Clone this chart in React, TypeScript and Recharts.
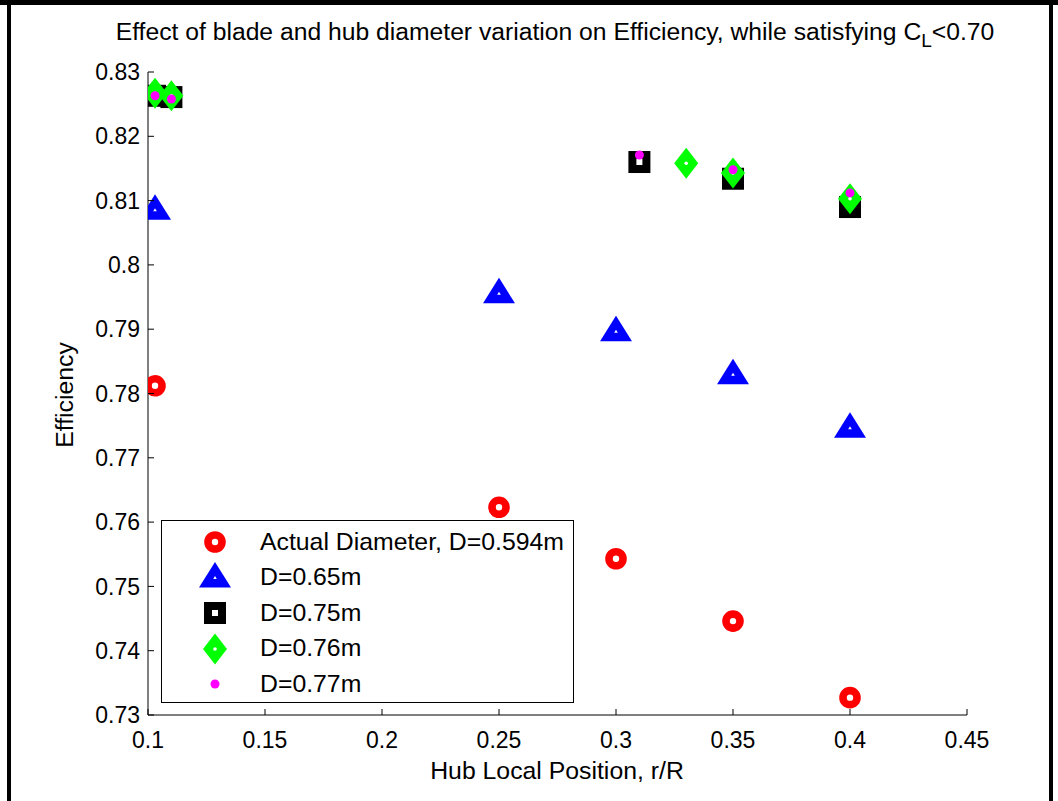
import React from "react";
import { ScatterChart, Scatter, XAxis, YAxis, Legend } from "recharts";

const FONT = '"Liberation Sans", Arial, Helvetica, sans-serif';

const xTicks = [0.1, 0.15, 0.2, 0.25, 0.3, 0.35, 0.4, 0.45];
const yTicks = [0.73, 0.74, 0.75, 0.76, 0.77, 0.78, 0.79, 0.8, 0.81, 0.82, 0.83];

const seriesNames = [
  "Actual Diameter, D=0.594m",
  "D=0.65m",
  "D=0.75m",
  "D=0.76m",
  "D=0.77m",
];

// r/R positions and efficiencies
const actualX = [0.103, 0.25, 0.3, 0.35, 0.4];
const actualY = [0.7812, 0.7623, 0.7543, 0.7446, 0.7327];

const d065X = [0.103, 0.25, 0.3, 0.35, 0.4];
const d065Y = [0.8085, 0.7955, 0.7896, 0.7829, 0.7746];

const d075X = [0.103, 0.11, 0.31, 0.35, 0.4];
const d075Y = [0.8263, 0.8261, 0.816, 0.8134, 0.809];

const d076X = [0.103, 0.11, 0.33, 0.35, 0.4];
const d076Y = [0.8267, 0.8263, 0.8158, 0.8143, 0.8103];

const d077X = [0.103, 0.11, 0.31, 0.35, 0.4];
const d077Y = [0.8263, 0.8258, 0.8171, 0.8148, 0.8112];

const toPoints = (xs: number[], ys: number[]) =>
  xs.map((x, i) => ({ x, y: ys[i] }));

const fmt = (v: number) => String(Number(v.toFixed(2)));

// recharts puts the label at axis + tickSize + tickMargin,
// so we step back that far and draw the tick mark pointing inward
const TICK_SIZE = 6;
const TICK_LEN = 6;
const X_MARGIN = 11;
const Y_MARGIN = 2;
const TICK_FONT = 23;

const BottomTick = ({ x, y, payload }: any) => {
  const base = y - X_MARGIN - TICK_SIZE;
  return (
    <g>
      <line x1={x} x2={x} y1={base} y2={base - TICK_LEN} stroke="#000" />
      <text
        x={x}
        y={y}
        dy="0.71em"
        textAnchor="middle"
        fill="#000"
        fontSize={TICK_FONT}
        fontFamily={FONT}
      >
        {fmt(payload.value)}
      </text>
    </g>
  );
};

const LeftTick = ({ x, y, payload }: any) => {
  const base = x + Y_MARGIN + TICK_SIZE;
  return (
    <g>
      <line x1={base} x2={base + TICK_LEN} y1={y} y2={y} stroke="#000" />
      <text
        x={x}
        y={y}
        dy="0.355em"
        textAnchor="end"
        fill="#000"
        fontSize={TICK_FONT}
        fontFamily={FONT}
      >
        {fmt(payload.value)}
      </text>
    </g>
  );
};

const TopTick = ({ x, y }: any) => {
  const base = y + TICK_SIZE;
  return <line x1={x} x2={x} y1={base} y2={base + TICK_LEN} stroke="#000" />;
};

const RightTick = ({ x, y }: any) => {
  const base = x - TICK_SIZE;
  return <line x1={base} x2={base - TICK_LEN} y1={y} y2={y} stroke="#000" />;
};

const Ring = ({ cx, cy }: any) => (
  <circle cx={cx} cy={cy} r={7} fill="none" stroke="#ff0000" strokeWidth={7.6} />
);

const Tri = ({ cx, cy }: any) => (
  <g>
    <polygon
      points={`${cx},${cy - 16} ${cx - 16},${cy + 9.5} ${cx + 16},${cy + 9.5}`}
      fill="#0000ff"
    />
    <polygon
      points={`${cx},${cy - 2} ${cx - 1.8},${cy + 1} ${cx + 1.8},${cy + 1}`}
      fill="#ffffff"
    />
  </g>
);

const Sq = ({ cx, cy }: any) => (
  <g>
    <rect x={cx - 11} y={cy - 11} width={22} height={22} fill="#000000" />
    <rect x={cx - 3} y={cy - 3} width={6} height={6} fill="#ffffff" />
  </g>
);

const Dia = ({ cx, cy }: any) => (
  <g>
    <polygon
      points={`${cx},${cy - 15.5} ${cx + 12},${cy} ${cx},${cy + 15.5} ${cx - 12},${cy}`}
      fill="#00ff00"
    />
    <circle cx={cx} cy={cy} r={1.8} fill="#ffffff" />
  </g>
);

const Dot = ({ cx, cy }: any) => (
  <circle cx={cx} cy={cy} r={4.5} fill="#ff00ff" />
);

const shapes = [Ring, Tri, Sq, Dia, Dot];

const LegendBox = () => (
  <div
    style={{
      border: "1.5px solid #000",
      background: "#fff",
      width: 413,
      height: 183,
      boxSizing: "border-box",
      paddingTop: 3,
      fontFamily: FONT,
      fontSize: 24.8,
    }}
  >
    {seriesNames.map((name, i) => {
      const Shape = shapes[i];
      return (
        <div
          key={name}
          style={{ display: "flex", alignItems: "center", height: 35.5 }}
        >
          <svg width={98} height={35} style={{ flexShrink: 0 }}>
            <Shape cx={53} cy={18} />
          </svg>
          <span style={{ whiteSpace: "nowrap" }}>{name}</span>
        </div>
      );
    })}
  </div>
);

export default function App() {
  const seriesData = [
    toPoints(actualX, actualY),
    toPoints(d065X, d065Y),
    toPoints(d075X, d075Y),
    toPoints(d076X, d076Y),
    toPoints(d077X, d077Y),
  ];

  return (
    <div
      style={{
        position: "absolute",
        left: 0,
        top: 0,
        width: 1058,
        height: 801,
        background: "#fff",
        overflow: "hidden",
        fontFamily: FONT,
      }}
    >
      <ScatterChart
        width={1058}
        height={801}
        margin={{ top: 72, right: 91, bottom: 56, left: 88 }}
      >
        <XAxis
          type="number"
          dataKey="x"
          domain={[0.1, 0.45]}
          ticks={xTicks}
          height={30}
          tickSize={TICK_SIZE}
          tickMargin={X_MARGIN}
          tickLine={false}
          stroke="#000"
          tick={<BottomTick />}
          allowDataOverflow
        />
        <XAxis
          xAxisId="top"
          orientation="top"
          type="number"
          domain={[0.1, 0.45]}
          ticks={xTicks}
          height={0}
          tickSize={TICK_SIZE}
          tickMargin={0}
          tickLine={false}
          tick={<TopTick />}
          stroke="#000"
          allowDataOverflow
        />
        <YAxis
          type="number"
          dataKey="y"
          domain={[0.73, 0.83]}
          ticks={yTicks}
          width={60}
          tickSize={TICK_SIZE}
          tickMargin={Y_MARGIN}
          tickLine={false}
          stroke="#000"
          tick={<LeftTick />}
          allowDataOverflow
        />
        <YAxis
          yAxisId="right"
          orientation="right"
          type="number"
          domain={[0.73, 0.83]}
          ticks={yTicks}
          width={0}
          tickSize={TICK_SIZE}
          tickMargin={0}
          tickLine={false}
          tick={<RightTick />}
          stroke="#000"
          allowDataOverflow
        />
        <Legend
          layout="vertical"
          align="center"
          verticalAlign="middle"
          content={<LegendBox />}
          wrapperStyle={{ left: 161, top: 520, width: 413, height: 183 }}
        />
        {seriesData.map((pts, i) => (
          <Scatter
            key={seriesNames[i]}
            name={seriesNames[i]}
            data={pts}
            shape={shapes[i]}
            isAnimationActive={false}
          />
        ))}
      </ScatterChart>

      <div
        style={{
          position: "absolute",
          left: 555,
          top: 19,
          transform: "translateX(-50%)",
          whiteSpace: "nowrap",
          fontSize: 24.7,
          lineHeight: "26px",
        }}
      >
        Effect of blade and hub diameter variation on Efficiency, while satisfying C
        <sub style={{ fontSize: 19, verticalAlign: "-7px" }}>L</sub>&lt;0.70
      </div>
      <div
        style={{
          position: "absolute",
          left: 557,
          top: 761,
          transform: "translateX(-50%)",
          whiteSpace: "nowrap",
          fontSize: 24.8,
          lineHeight: "20px",
        }}
      >
        Hub Local Position, r/R
      </div>
      <div
        style={{
          position: "absolute",
          left: 65,
          top: 395,
          transform: "translate(-50%, -50%) rotate(-90deg)",
          whiteSpace: "nowrap",
          fontSize: 24.8,
          lineHeight: "26px",
        }}
      >
        Efficiency
      </div>

      {/* figure frame */}
      <div style={{ position: "absolute", left: 0, top: 0, width: 1058, height: 5, background: "#000" }} />
      <div style={{ position: "absolute", left: 7, top: 0, width: 4, height: 801, background: "#000" }} />
      <div style={{ position: "absolute", left: 1049, top: 0, width: 4, height: 801, background: "#000" }} />
    </div>
  );
}
